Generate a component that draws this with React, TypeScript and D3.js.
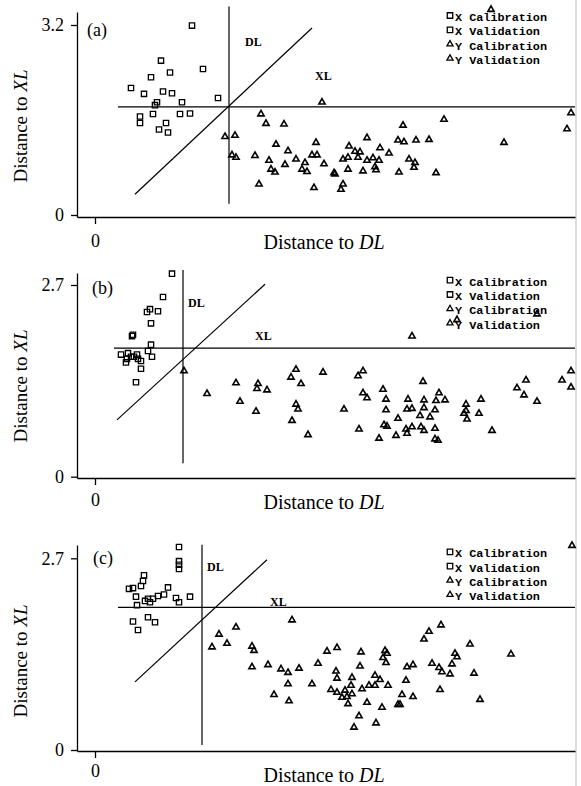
import { useEffect, useRef } from "react";
import * as d3 from "d3";

type Pt = [number, number];

// ---- panel (a) ----
const xCalA: Pt[] = [[0.97,3.19],[0.66,2.60],[1.08,2.46],[0.75,2.40],[0.56,2.32],[0.36,2.14],[0.49,2.04],[0.68,2.08],[0.77,2.05],[1.23,1.97],[0.87,1.90],[0.62,1.90],[0.60,1.85],[0.58,1.70]];
const xValA: Pt[] = [[0.45,1.66],[0.45,1.55],[0.85,1.70],[0.95,1.71],[0.71,1.55],[0.64,1.44],[0.73,1.39]];
const yCalA: Pt[] = [[1.66,1.70],[1.71,1.54],[1.89,1.53],[1.30,1.32],[1.40,1.34],[1.81,1.19],[2.21,1.22],[1.37,1.01],[1.41,0.97],[1.60,1.00],[1.74,0.92],[1.93,1.08],[2.01,0.94],[1.90,0.85],[1.76,0.77],[1.80,0.72],[2.10,0.88],[2.17,1.01],[2.22,1.01],[2.29,0.86],[2.07,0.77],[2.12,0.73],[1.64,0.52],[2.19,0.46],[2.27,1.90],[4.76,1.72],[4.72,1.45],[3.49,1.61],[3.08,1.51],[2.72,1.30],[3.03,1.26],[3.09,1.23],[3.21,1.26],[3.34,1.27],[4.09,1.22],[2.54,1.16],[2.60,1.07],[2.65,1.06],[2.85,1.13],[2.94,1.04]];
const yValA: Pt[] = [[2.48,0.94],[2.53,0.97],[2.63,0.97],[2.72,0.92],[2.78,0.96],[2.84,0.92],[3.14,0.94],[3.20,0.88],[3.19,0.80],[2.80,0.81],[2.81,0.76],[2.39,0.71],[2.40,0.69],[2.53,0.77],[2.68,0.74],[3.04,0.72],[3.41,0.71],[2.48,0.52],[2.46,0.43],[3.96,3.46]];

// ---- panel (b) ----
const xCalB: Pt[] = [[0.77,2.86],[0.68,2.53],[0.52,2.32],[0.55,2.36],[0.63,2.33],[0.56,2.16],[0.37,1.98],[0.38,2.00],[0.56,1.86],[0.53,1.77],[0.26,1.72],[0.33,1.74],[0.36,1.69],[0.42,1.72],[0.39,1.69]];
const xValB: Pt[] = [[0.31,1.61],[0.32,1.66],[0.43,1.66],[0.46,1.63],[0.57,1.69],[0.46,1.52],[0.41,1.33]];
const yCalB: Pt[] = [[0.89,1.49],[1.12,1.17],[1.41,1.32],[1.45,1.06],[1.63,1.31],[1.62,1.24],[1.72,1.22],[1.61,0.92],[2.01,1.51],[1.96,1.40],[2.06,1.31],[2.28,1.47],[2.01,1.02],[2.03,0.95],[1.97,0.79],[2.13,0.59],[3.17,1.98],[2.68,1.49],[2.63,1.42],[3.28,1.34],[2.68,1.18],[2.72,1.11],[2.88,1.23],[2.91,1.09],[2.49,0.95],[2.91,0.94],[3.13,1.09],[3.29,1.08],[3.41,1.07],[3.44,1.18],[3.50,1.08],[3.12,0.95],[3.17,0.96],[3.29,0.97],[3.40,0.94],[3.25,0.86],[3.35,0.84],[3.03,0.82],[2.89,0.73],[2.92,0.71],[2.64,0.67],[2.84,0.54],[3.01,0.58],[3.11,0.67],[3.12,0.61]];
const yValB: Pt[] = [[3.17,0.70],[3.26,0.70],[3.29,0.65],[3.40,0.68],[3.40,0.53],[3.43,0.51],[3.71,1.02],[3.71,0.93],[3.69,0.89],[3.72,0.81],[3.86,1.09],[3.84,0.89],[3.97,0.65],[4.22,1.25],[4.29,1.15],[4.31,1.36],[4.42,1.06],[4.76,1.49],[4.67,1.36],[4.76,1.26],[3.62,2.21],[4.42,2.29]];

// ---- panel (c) ----
const xCalC: Pt[] = [[0.84,2.86],[0.84,2.66],[0.84,2.61],[0.84,2.55],[0.49,2.46],[0.48,2.38],[0.46,2.31],[0.38,2.28],[0.34,2.27],[0.41,2.16],[0.73,2.29],[0.69,2.19],[0.63,2.17],[0.95,2.16],[0.81,2.14],[0.84,2.08],[0.58,2.13]];
const xValC: Pt[] = [[0.53,2.13],[0.50,2.10],[0.55,2.08],[0.42,2.04],[0.38,1.81],[0.53,1.87],[0.60,1.80],[0.43,1.69]];
const yCalC: Pt[] = [[1.97,1.83],[1.41,1.73],[1.24,1.63],[1.17,1.45],[1.32,1.50],[1.57,1.46],[1.59,1.40],[2.32,1.39],[1.57,1.17],[1.73,1.20],[1.86,1.14],[1.93,1.09],[2.04,1.15],[2.23,1.22],[1.93,0.93],[2.17,0.93],[1.79,0.78],[1.94,0.69],[4.77,2.88],[3.46,1.76],[3.34,1.67],[3.29,1.56],[3.75,1.49],[2.42,1.44],[2.66,1.38],[2.90,1.40],[2.92,1.36],[2.88,1.30],[2.91,1.23],[2.65,1.18],[3.12,1.17],[3.18,1.20],[3.37,1.22],[3.44,1.16],[3.47,1.10],[3.55,1.07],[3.57,1.21],[3.60,1.36],[3.62,1.31],[4.16,1.35],[3.79,1.08],[2.41,1.11],[2.42,1.01],[2.57,1.02],[2.56,0.91],[2.80,1.05]];
const yValC: Pt[] = [[2.85,0.99],[2.80,0.91],[2.74,0.91],[2.67,0.86],[2.93,0.91],[3.11,0.98],[2.36,0.85],[2.42,0.81],[2.50,0.84],[2.47,0.74],[2.52,0.75],[2.53,0.65],[2.57,0.79],[3.45,0.85],[3.85,0.71],[3.07,0.78],[3.05,0.64],[3.03,0.64],[3.18,0.75],[2.72,0.67],[2.87,0.60],[2.64,0.48],[2.59,0.32],[2.81,0.38]];

const legendLabels = ["X Calibration", "X Validation", "Y Calibration", "Y Validation"];
const panelNames = ["(a)", "(b)", "(c)"];
const yTickMax = [3.2, 2.7, 2.7];
const xDomain: Pt = [-0.18, 4.8];

// DL: [x, yFrom, yTo]; XL: [y, xFrom]; diagonal: [x0, y0, x1, y1]
const dlLines = [[1.34, 0.19, 3.51], [0.88, 0.19, 2.91], [1.07, 0.07, 2.89]];
const xlLines = [[1.82, 0.23], [1.81, 0.19], [2.01, 0.23]];
const diagLines = [[0.40, 0.35, 2.17, 3.15], [0.22, 0.80, 1.70, 2.71], [0.40, 0.96, 1.72, 2.68]];

const series = [
  [xCalA, xValA, yCalA, yValA],
  [xCalB, xValB, yCalB, yValB],
  [xCalC, xValC, yCalC, yValC],
];

const layout = [
  { top: 12, zero: 215, max: 25, axisY: 217, pad: 10, labelY: 249, yLabelY: 126, name: [87, 36], legendTop: 17, dl: [245, 46], xl: [315, 80] },
  { top: 273, zero: 476.7, max: 285, axisY: 478, pad: 8, labelY: 509, yLabelY: 386, name: [92, 294], legendTop: 281.7, dl: [188, 307], xl: [255, 340] },
  { top: 545, zero: 750, max: 558.3, axisY: 751, pad: 6, labelY: 782, yLabelY: 661, name: [93, 564], legendTop: 553.3, dl: [207, 571], xl: [270, 606] },
];

const serif = "'Liberation Serif', 'Times New Roman', serif";
const mono = "'Liberation Mono', 'DejaVu Sans Mono', monospace";

function drawPanel(svg: any, i: number) {
  const L = layout[i];
  const g = svg.append("g");

  const x = d3.scaleLinear().domain(xDomain).range([77, 575]);
  const yRef = d3.scaleLinear().domain([0, yTickMax[i]]).range([L.zero, L.max]);
  const y = d3
    .scaleLinear()
    .domain([yRef.invert(L.axisY), yRef.invert(L.top)])
    .range([L.axisY, L.top]);

  // axes
  const ya = g
    .append("g")
    .attr("transform", `translate(${x.range()[0]},0)`)
    .call(d3.axisLeft(y).tickValues([0, yTickMax[i]]).tickSize(6).tickSizeOuter(0).tickPadding(7).tickFormat((d: any) => String(d)));
  const xa = g
    .append("g")
    .attr("transform", `translate(0,${L.axisY})`)
    .call(d3.axisBottom(x).tickValues([0]).tickSize(7).tickSizeOuter(0).tickPadding(L.pad).tickFormat((d: any) => String(d)));
  [ya, xa].forEach((a) => {
    a.attr("font-family", serif).attr("font-size", 18);
    a.selectAll("path, line").attr("stroke", "#000").attr("stroke-width", 1.3);
    a.selectAll("text").attr("fill", "#000");
  });

  // reference lines
  const line = d3.line<Pt>().x((d) => x(d[0])).y((d) => y(d[1]));
  const dl = dlLines[i], xl = xlLines[i], dg = diagLines[i];
  const refs: Pt[][] = [
    [[dl[0], dl[1]], [dl[0], dl[2]]],
    [[xl[1], xl[0]], [xDomain[1], xl[0]]],
    [[dg[0], dg[1]], [dg[2], dg[3]]],
  ];
  g.append("g")
    .selectAll("path")
    .data(refs)
    .join("path")
    .attr("d", (d: Pt[]) => line(d))
    .attr("fill", "none")
    .attr("stroke", "#000")
    .attr("stroke-width", 1.2);

  // points
  const sq = d3.symbol().type(d3.symbolSquare).size(28)();
  const tri = d3.symbol().type(d3.symbolTriangle).size(17)();
  series[i].forEach((pts, k) => {
    g.append("g")
      .selectAll("path")
      .data(pts)
      .join("path")
      .attr("d", k < 2 ? sq : tri)
      .attr("transform", (d: Pt) => `translate(${x(d[0])},${y(d[1])})`)
      .attr("fill", "none")
      .attr("stroke", "#000")
      .attr("stroke-width", k < 2 ? 1.3 : 1.6);
  });

  // legend
  const lg = g.append("g").attr("transform", `translate(450,${L.legendTop})`);
  legendLabels.forEach((lab, k) => {
    const row = lg.append("g").attr("transform", `translate(0,${k * 14.3})`);
    row.append("path")
      .attr("d", k < 2 ? d3.symbol().type(d3.symbolSquare).size(30)() : d3.symbol().type(d3.symbolTriangle).size(16)())
      .attr("transform", "translate(0,-1.5)")
      .attr("fill", "none")
      .attr("stroke", "#000")
      .attr("stroke-width", 1.3);
    row.append("text")
      .attr("x", 5)
      .attr("dy", "0.35em")
      .attr("font-family", mono)
      .attr("font-weight", "bold")
      .attr("font-size", 11.8)
      .text(lab);
  });

  // annotations
  g.append("text").attr("x", L.name[0]).attr("y", L.name[1]).attr("font-family", serif).attr("font-size", 18).text(panelNames[i]);
  g.append("text").attr("x", L.dl[0]).attr("y", L.dl[1]).attr("font-family", serif).attr("font-weight", "bold").attr("font-size", 12).text("DL");
  g.append("text").attr("x", L.xl[0]).attr("y", L.xl[1]).attr("font-family", serif).attr("font-weight", "bold").attr("font-size", 12).text("XL");

  const xt = g.append("text").attr("x", 324).attr("y", L.labelY).attr("text-anchor", "middle").attr("font-family", serif).attr("font-size", 20);
  xt.append("tspan").text("Distance to ");
  xt.append("tspan").attr("font-style", "italic").text("DL");

  const yt = g.append("text").attr("transform", `translate(27,${L.yLabelY}) rotate(-90)`).attr("text-anchor", "middle").attr("font-family", serif).attr("font-size", 19);
  yt.append("tspan").text("Distance to ");
  yt.append("tspan").attr("font-style", "italic").text("XL");
}

export default function App() {
  const ref = useRef<SVGSVGElement>(null);

  useEffect(() => {
    const svg = d3.select(ref.current);
    svg.selectAll("*").remove();
    svg.append("rect").attr("width", 581).attr("height", 786).attr("fill", "#fff");
    svg.append("line").attr("x1", 576).attr("x2", 576).attr("y1", 0).attr("y2", 786).attr("stroke", "#bbb").attr("stroke-width", 1);
    [0, 1, 2].forEach((i) => drawPanel(svg, i));
  }, []);

  return <svg ref={ref} width={581} height={786} style={{ position: "absolute", left: 0, top: 0 }} />;
}
